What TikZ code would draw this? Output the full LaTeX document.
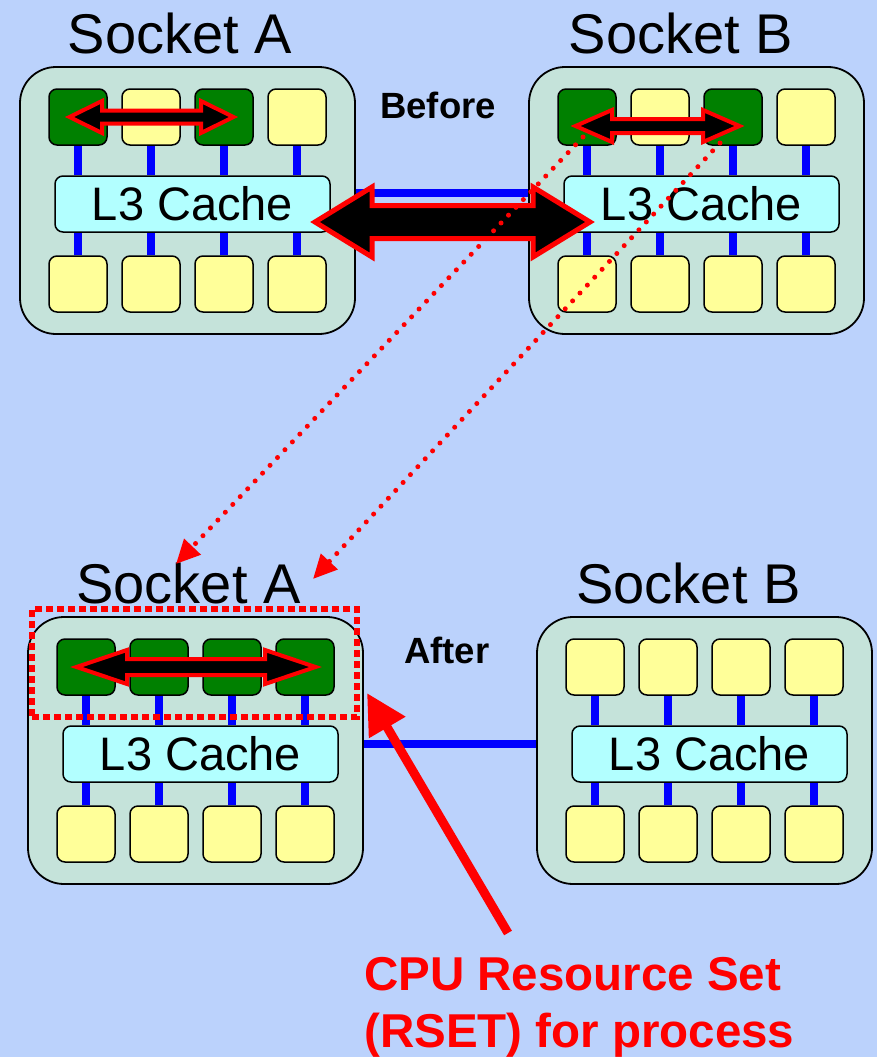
\documentclass[tikz,border=0pt]{standalone}
\usepackage{fontspec}
\setmainfont{Liberation Sans}
\usetikzlibrary{arrows.meta,calc}

\definecolor{bgblue}{RGB}{187,210,252}
\definecolor{socketfill}{RGB}{197,227,218}
\definecolor{coreyellow}{RGB}{255,255,153}
\definecolor{coregreen}{RGB}{0,128,0}
\definecolor{cachefill}{RGB}{178,255,255}
\definecolor{busblue}{RGB}{0,0,255}
\definecolor{alertred}{RGB}{255,0,0}

% one processor socket: #1 name, #2/#3 top-left corner, #4 fills of the upper cores
\newcommand\cpusocket[4]{%
  \node[socketbox] (#1) at ({#2+167.5},{#3+133.5}) {};
  \node[cachebox] (#1L3) at ({#2+172.5},{#3+137}) {L3 Cache};
  \foreach \c [count=\i] in {#4} {
    \node[corebox, fill=\c] (#1t\i) at ({#2+58+73*(\i-1)},{#3+50}) {};
    \node[corebox, fill=coreyellow] (#1b\i) at ({#2+58+73*(\i-1)},{#3+217}) {};
    \draw[bus] (#1t\i.south) -- (#1t\i.south |- #1L3.north);
    \draw[bus] (#1b\i.north) -- (#1b\i.north |- #1L3.south);
  }%
}

% outlined double-headed block arrow: #1 style, #2/#3 left/right tip x, #4 y,
% #5 head length, #6 head half-height, #7 shaft half-height
\newcommand\fatarrow[7]{%
  \filldraw[#1] ({#2},{#4}) -- ({#2+#5},{#4-#6}) -- ({#2+#5},{#4-#7})
    -- ({#3-#5},{#4-#7}) -- ({#3-#5},{#4-#6}) -- ({#3},{#4})
    -- ({#3-#5},{#4+#6}) -- ({#3-#5},{#4+#7}) -- ({#2+#5},{#4+#7})
    -- ({#2+#5},{#4+#6}) -- cycle;%
}

\begin{document}
\begin{tikzpicture}[x=1pt,y=-1pt,
  socketbox/.style={draw=black, line width=1.8pt, fill=socketfill,
    rounded corners=36pt, minimum width=335pt, minimum height=267pt, inner sep=0pt},
  corebox/.style={draw=black, line width=1.5pt, rounded corners=8pt,
    minimum width=58pt, minimum height=56pt, inner sep=0pt},
  cachebox/.style={draw=black, line width=1.5pt, fill=cachefill, rounded corners=8pt,
    minimum width=275pt, minimum height=56pt, inner sep=0pt,
    font=\fontsize{47}{50}\selectfont},
  bus/.style={draw=busblue, line width=7.5pt},
  title/.style={inner sep=0pt, font=\fontsize{56}{60}\selectfont},
  phase/.style={inner sep=0pt, font=\fontsize{36.5}{40}\selectfont\bfseries},
  rsettext/.style={inner sep=0pt, text=alertred, font=\fontsize{47.5}{52}\selectfont\bfseries},
  blockarrow/.style={fill=black, draw=alertred, line join=miter},
  migrate/.style={draw=alertred, line width=5pt, line cap=round,
    dash pattern=on 0pt off 10.8pt, -{Triangle[length=24pt,width=22pt]}},
  rsetbox/.style={draw=alertred, line width=6.5pt, dash pattern=on 7pt off 4pt,
    minimum width=325pt, minimum height=108pt, inner sep=0pt},
  pointer/.style={draw=alertred, line width=9pt, -{Triangle[length=40pt,width=40pt]}}
]
\fill[bgblue] (0,0) rectangle (877,1057);
\useasboundingbox (0,0) rectangle (877,1057);
\clip (0,0) rectangle (877,1057);

% ---- before: threads spread over both sockets ----
\cpusocket{A1}{20}{67}{coregreen,coreyellow,coregreen,coreyellow}
\cpusocket{B1}{529}{67}{coregreen,coreyellow,coregreen,coreyellow}
\draw[bus] ([yshift=7.5pt]A1.east) -- ([yshift=7.5pt]B1.west);

\node[title, anchor=base] (tA1) at (180,53) {Socket A};
\node[title, anchor=base] (tB1) at (681,53) {Socket B};
\node[phase, anchor=base west] (before) at (380,118) {Before};

\fatarrow{blockarrow, line width=4pt}{69.5}{233.5}{117}{32.5}{16}{6.5}
\fatarrow{blockarrow, line width=4pt}{575.5}{739.5}{126}{36.5}{16}{7}
\fatarrow{blockarrow, line width=5pt}{315}{590}{222}{57}{35}{16.5}

% ---- after: all threads on socket A ----
\cpusocket{A2}{28}{617}{coregreen,coregreen,coregreen,coregreen}
\cpusocket{B2}{537}{617}{coreyellow,coreyellow,coreyellow,coreyellow}
\draw[bus] ([yshift=6.5pt]A2.east) -- ([yshift=6.5pt]B2.west);

\node[title, anchor=base] (tA2) at (188.5,603) {Socket A};
\node[title, anchor=base] (tB2) at (688.5,603) {Socket B};
\node[phase, anchor=base west] (after) at (404,663) {After};

\fatarrow{blockarrow, line width=4pt}{76.5}{315.5}{667}{50.5}{17}{8}

\node[rsetbox] (rset) at (194.5,663) {};

% thread migration paths
\coordinate (m1s) at (583,137);
\coordinate (m1e) at (176,564);
\coordinate (m2s) at (720,143);
\coordinate (m2e) at (313,579);
\draw[migrate] (m1s) -- (m1e);
\draw[migrate] (m2s) -- (m2e);

% callout for the resource set
\node[rsettext, anchor=base west] (rsetl1) at (364,990) {CPU Resource Set};
\node[rsettext, anchor=base west] (rsetl2) at (364,1047) {(RSET) for process};
\coordinate (ptail) at (508,933);
\coordinate (ptip) at (367,693);
\draw[pointer] (ptail) -- (ptip);
\end{tikzpicture}
\end{document}
